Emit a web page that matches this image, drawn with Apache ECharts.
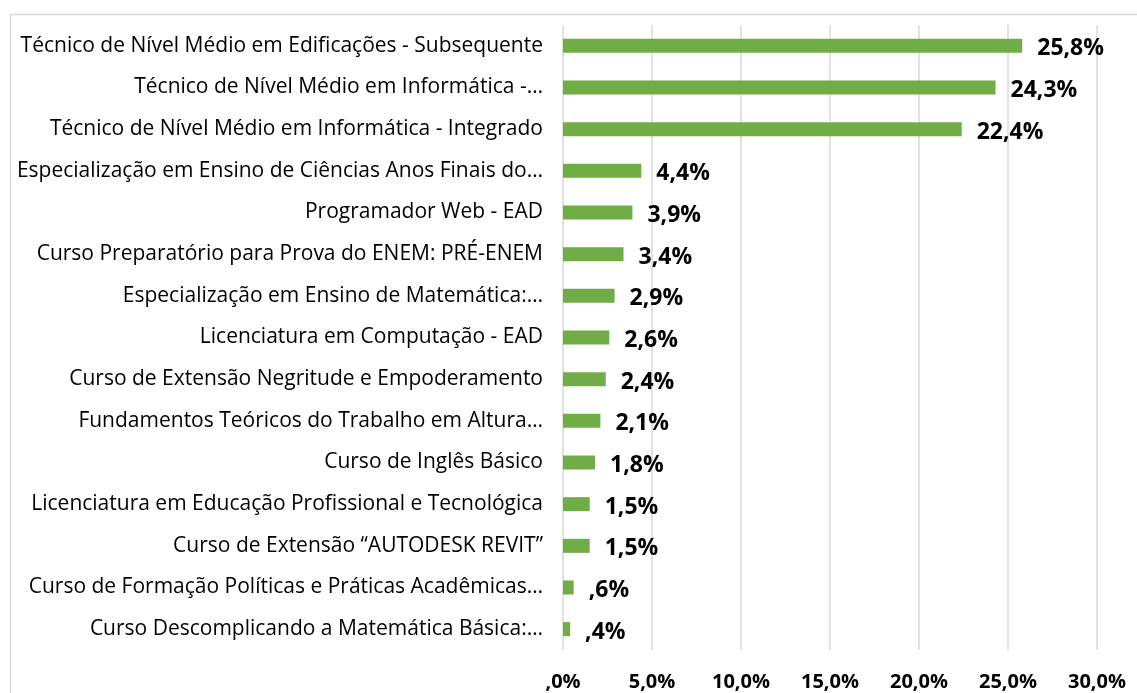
<!DOCTYPE html>
<html>
<head>
<meta charset="utf-8">
<script src="https://cdn.jsdelivr.net/npm/echarts@6/dist/echarts.min.js"></script>
<style>
html,body{margin:0;padding:0;background:#fff;}
#chart{width:1137px;height:693px;}
</style>
</head>
<body>
<div id="chart"></div>
<script>
const categories = [
  "Técnico de Nível Médio em Edificações - Subsequente",
  "Técnico de Nível Médio em Informática -…",
  "Técnico de Nível Médio em Informática - Integrado",
  "Especialização em Ensino de Ciências Anos Finais do…",
  "Programador Web - EAD",
  "Curso Preparatório para Prova do ENEM: PRÉ-ENEM",
  "Especialização em Ensino de Matemática:…",
  "Licenciatura em Computação - EAD",
  "Curso de Extensão Negritude e Empoderamento",
  "Fundamentos Teóricos do Trabalho em Altura…",
  "Curso de Inglês Básico",
  "Licenciatura em Educação Profissional e Tecnológica",
  "Curso de Extensão “AUTODESK REVIT”",
  "Curso de Formação Políticas e Práticas Acadêmicas…",
  "Curso Descomplicando a Matemática Básica:…"
];
const values = [25.8, 24.3, 22.4, 4.4, 3.9, 3.4, 2.9, 2.6, 2.4, 2.1, 1.8, 1.5, 1.5, 0.6, 0.4];
const axisMin = 0, axisMax = 30, axisStep = 5;

function fmt(v){
  let s = v.toFixed(1).replace('.', ',');
  if (s.startsWith('0,')) s = s.slice(1);
  return s + '%';
}

const FONT = 'Open Sans';
const chart = echarts.init(document.getElementById('chart'), null, {renderer:'canvas'});
chart.setOption({
  animation:false,
  backgroundColor:'#fff',
  graphic:[{
    type:'rect', left:8, top:12, shape:{width:1300, height:900},
    style:{fill:'none', stroke:'#d9d9d9', lineWidth:1.5}, silent:true, z:-1
  }],
  grid:{left:563, right:40, top:25, bottom:43, containLabel:false},
  xAxis:{
    type:'value', min:axisMin, max:axisMax, interval:axisStep,
    axisLine:{show:false}, axisTick:{show:false},
    splitLine:{show:true, lineStyle:{color:'#d9d9d9', width:1.5}},
    axisLabel:{formatter:fmt, color:'#000', fontFamily:FONT, fontWeight:'bold', fontSize:20, margin:22}
  },
  yAxis:{
    type:'category', data:categories, inverse:true,
    axisLine:{show:false}, axisTick:{show:false},
    axisLabel:{color:'#000', fontFamily:FONT, fontSize:21, margin:20}
  },
  series:[{
    type:'bar', data:values, barWidth:14,
    itemStyle:{color:'#70AD47'},
    label:{show:true, position:'right', distance:15, offset:[0,3], formatter:p=>fmt(p.value),
      color:'#000', fontFamily:FONT, fontWeight:'bold', fontSize:23}
  }]
});
</script>
</body>
</html>
